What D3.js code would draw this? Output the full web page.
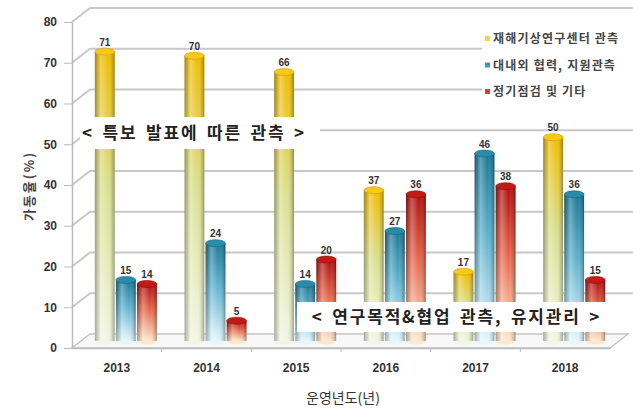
<!DOCTYPE html>
<html>
<head>
<meta charset="utf-8">
<script src="https://cdn.jsdelivr.net/npm/d3@7"></script>
<style>
  body { margin: 0; background: #fff; }
  svg { font-family: "Noto Sans CJK KR", "Noto Sans", sans-serif; }
</style>
</head>
<body>
<div id="chart"></div>
<script>
// data
const years = ["2013", "2014", "2015", "2016", "2017", "2018"];
const seriesNames = ["재해기상연구센터 관측", "대내외 협력, 지원관측", "정기점검 및 기타"];
const centerObs = [71, 70, 66, 37, 17, 50];
const supportObs = [15, 24, 14, 27, 46, 36];
const regularObs = [14, 5, 20, 36, 38, 15];
const yTicks = [0, 10, 20, 30, 40, 50, 60, 70, 80];

const width = 633;
const height = 410;
const marginTop = 22;
const marginLeft = 72;
const plotRight = 610;
const floorY = 348;
// 3d depth offset (back wall vs front edge)
const depthX = 18, depthY = -14;

const svg = d3.select("#chart").append("svg")
    .attr("width", width)
    .attr("height", height);

const x = d3.scaleBand().domain(years).range([marginLeft, plotRight]);
const xs = d3.scaleBand().domain(d3.range(3)).range([-31, 31]).paddingInner(0.06);
const y = d3.scaleLinear().domain([0, 80]).range([floorY, marginTop]);

const defs = svg.append("defs");
const colors = [
  {top: "#f2bd00", mid: "#d9e08c", bot: "#f1f6e2", cap: "#f7c81a", key: "#e8d84a"},
  {top: "#1a7896", mid: "#5fb3cf", bot: "#e3f7fd", cap: "#2a8cab", key: "#3a9abb"},
  {top: "#b00d0d", mid: "#e8664a", bot: "#fde8cc", cap: "#c21a14", key: "#d8402c"}
];
colors.forEach((c, i) => {
  const g = defs.append("linearGradient").attr("id", "vg" + i)
      .attr("x1", 0).attr("y1", 0).attr("x2", 0).attr("y2", 1);
  g.append("stop").attr("offset", "0%").attr("stop-color", c.top);
  g.append("stop").attr("offset", "45%").attr("stop-color", c.mid);
  g.append("stop").attr("offset", "100%").attr("stop-color", c.bot);
});
const shade = defs.append("linearGradient").attr("id", "shade");
shade.append("stop").attr("offset", "0%").attr("stop-color", "#000").attr("stop-opacity", 0.3);
shade.append("stop").attr("offset", "30%").attr("stop-color", "#fff").attr("stop-opacity", 0.3);
shade.append("stop").attr("offset", "65%").attr("stop-color", "#fff").attr("stop-opacity", 0);
shade.append("stop").attr("offset", "100%").attr("stop-color", "#000").attr("stop-opacity", 0.35);

// floor
svg.append("path")
    .attr("d", `M${marginLeft},${floorY}L${plotRight},${floorY}L${plotRight + depthX},${floorY + depthY}L${marginLeft + depthX},${floorY + depthY}Z`)
    .attr("fill", "#f8f8f8")
    .attr("stroke", "#c4c4c4")
    .attr("stroke-width", 1.5);

// back-wall gridlines with the diagonal from the front axis
const grid = svg.append("g").attr("stroke", "#c8c8c8").attr("stroke-width", 2).attr("fill", "none");
grid.selectAll("path").data(yTicks.slice(1)).join("path")
    .attr("d", d => `M${marginLeft},${y(d)}L${marginLeft + depthX},${y(d) + depthY}L${plotRight + depthX + 5},${y(d) + depthY}`);

// y axis
svg.append("g")
    .attr("transform", `translate(${marginLeft},0)`)
    .call(d3.axisLeft(y).tickValues(yTicks).tickSize(8).tickSizeOuter(0).tickPadding(7))
    .call(g => g.select(".domain").attr("stroke", "#bbb").attr("stroke-width", 1.5))
    .call(g => g.selectAll(".tick line").attr("stroke", "#bbb"))
    .call(g => g.selectAll("text").attr("font-size", 12).attr("font-weight", "bold").attr("fill", "#333")
        .attr("font-family", "Liberation Sans, Arial, sans-serif"));

// x axis
svg.append("g")
    .attr("transform", `translate(0,${floorY})`)
    .call(d3.axisBottom(x).tickSize(0).tickPadding(15))
    .call(g => g.select(".domain").attr("stroke", "#bbb").attr("stroke-width", 1.5))
    .call(g => g.selectAll("text").attr("font-size", 12).attr("font-weight", "bold").attr("fill", "#333")
        .attr("font-family", "Liberation Sans, Arial, sans-serif"));

// small ticks between groups on the floor edge
svg.append("g").attr("stroke", "#bbb")
  .selectAll("line").data(years.slice(1)).join("line")
    .attr("x1", d => x(d)).attr("x2", d => x(d))
    .attr("y1", floorY).attr("y2", floorY + 4);

// cylinders, drawn on the middle depth plane
const series = [centerObs, supportObs, regularObs];
const midX = depthX / 2, midY = depthY / 2;
const bw = xs.bandwidth();
const ry = 3.5;
const bars = svg.append("g");
series.forEach((vals, si) => {
  const gs = bars.append("g");
  vals.forEach((v, i) => {
    const cx = x(years[i]) + x.bandwidth() / 2 + xs(si) + midX;
    const top = y(v) + midY;
    const bottom = y(0) + midY;
    gs.append("ellipse")
        .attr("cx", cx + bw / 2).attr("cy", bottom).attr("rx", bw / 2).attr("ry", ry)
        .attr("fill", colors[si].bot);
    gs.append("rect")
        .attr("x", cx).attr("y", top).attr("width", bw).attr("height", bottom - top)
        .attr("fill", `url(#vg${si})`);
    gs.append("rect")
        .attr("x", cx).attr("y", top).attr("width", bw).attr("height", bottom - top)
        .attr("fill", "url(#shade)");
    gs.append("ellipse")
        .attr("cx", cx + bw / 2).attr("cy", top).attr("rx", bw / 2).attr("ry", ry)
        .attr("fill", colors[si].cap)
        .attr("stroke", d3.color(colors[si].top).darker(0.5)).attr("stroke-width", 0.6);
    gs.append("text")
        .attr("x", cx + bw / 2).attr("y", top - 6)
        .attr("text-anchor", "middle")
        .attr("font-size", 10).attr("font-weight", "bold").attr("fill", "#333")
        .attr("font-family", "Liberation Sans, Arial, sans-serif")
        .text(v);
  });
});

// legend
const legend = svg.append("g").attr("transform", "translate(482,22)");
legend.append("rect").attr("width", 151).attr("height", 84).attr("fill", "#fff");
seriesNames.forEach((name, i) => {
  const row = legend.append("g").attr("transform", `translate(3,${17 + i * 26.5})`);
  row.append("rect").attr("x", 0).attr("y", -3).attr("width", 5).attr("height", 5)
      .attr("fill", colors[i].key);
  row.append("text").attr("x", 8).attr("dy", "0.35em")
      .attr("font-size", 12).attr("font-weight", "bold").attr("fill", "#444")
      .attr("letter-spacing", 1.2)
      .text(name);
});

// annotation boxes
const notes = [
  {text: "< 특보 발표에 따른 관측 >", x0: 80, x1: 320, y0: 117, y1: 149},
  {text: "< 연구목적&협업 관측, 유지관리 >", x0: 297, x1: 628, y0: 302, y1: 332}
];
notes.forEach(n => {
  svg.append("rect")
      .attr("x", n.x0).attr("y", n.y0).attr("width", n.x1 - n.x0).attr("height", n.y1 - n.y0)
      .attr("fill", "#fff");
  svg.append("text")
      .attr("x", (n.x0 + n.x1) / 2 - 6).attr("y", (n.y0 + n.y1) / 2).attr("dy", "0.35em")
      .attr("text-anchor", "middle")
      .attr("font-size", 17).attr("font-weight", "bold").attr("fill", "#222")
      .attr("letter-spacing", 1.8).attr("word-spacing", 3)
      .text(n.text);
});

// axis titles
svg.append("text")
    .attr("transform", "translate(29,186) rotate(-90)")
    .attr("text-anchor", "middle").attr("dy", "0.35em")
    .attr("font-size", 13).attr("font-weight", "bold").attr("fill", "#444")
    .attr("letter-spacing", 2)
    .text("가동율(%)");

svg.append("text")
    .attr("x", 343).attr("y", 398)
    .attr("text-anchor", "middle").attr("dy", "0.35em")
    .attr("font-size", 14).attr("fill", "#333")
    .text("운영년도(년)");
</script>
</body>
</html>
